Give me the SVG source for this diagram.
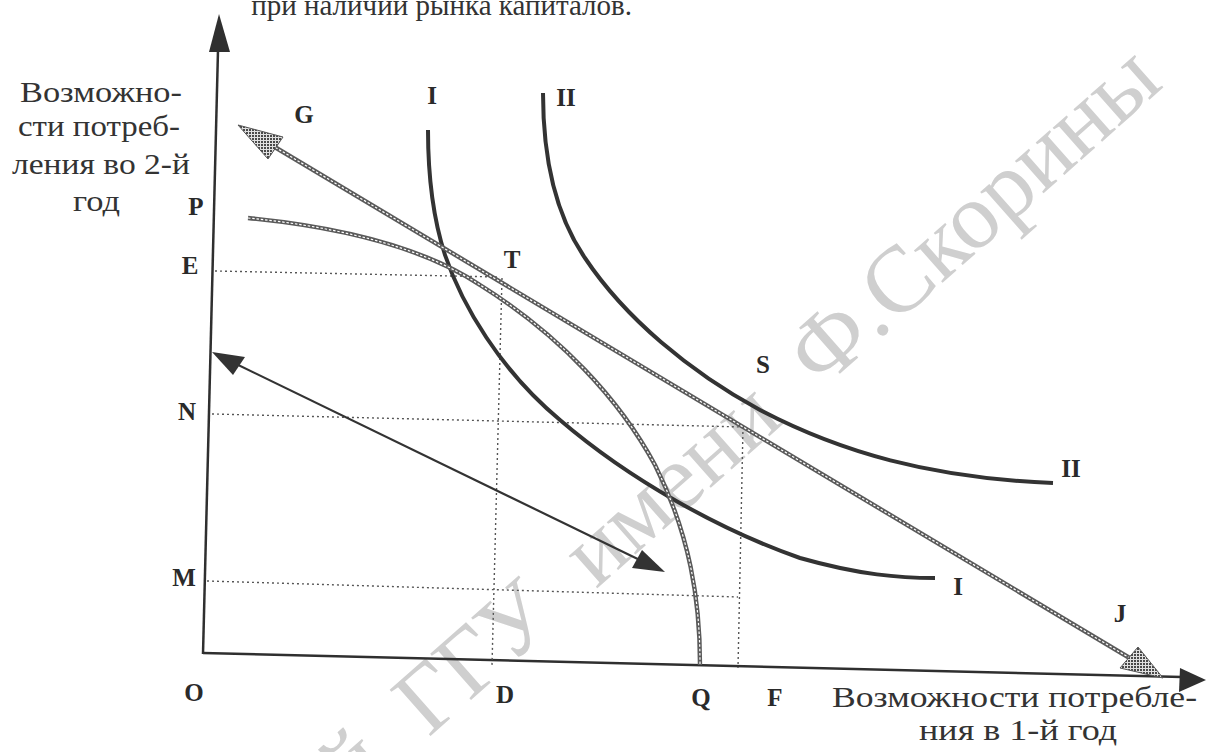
<svg xmlns="http://www.w3.org/2000/svg" width="1216" height="752" viewBox="0 0 1216 752">
<style>
.lbl{font-family:"Liberation Serif","Times New Roman",serif;font-weight:bold;font-size:25px;fill:#2a2a2a}
.cap{font-family:"Liberation Serif","Times New Roman",serif;font-size:29px;fill:#333}
.ax{stroke:#2f2f2f;stroke-width:2.5;fill:none}
.ic{stroke:#333;stroke-width:4;fill:none;stroke-linecap:butt}
.hb{stroke:#5a5a5a;stroke-width:4.4;fill:none}
.hw{stroke:#fff;stroke-width:1.2;fill:none;stroke-dasharray:2.5 1.8}
.dot{stroke:#555;stroke-width:1.4;fill:none;stroke-dasharray:2 3}
.sl{stroke:#333;stroke-width:2.2;fill:none}
.wm{font-family:"Liberation Serif","Times New Roman",serif;font-size:94px;word-spacing:25px;fill:#cfcfcf}
</style>
<defs>
<pattern id="dots" width="3" height="3" patternUnits="userSpaceOnUse">
<rect width="3" height="3" fill="#e0e0e0"/>
<rect width="2" height="2" fill="#4a4a4a"/>
</pattern>
</defs>
<rect width="1216" height="752" fill="#fff"/>
<text id="watermark" class="wm" text-anchor="end" transform="translate(1165,86) rotate(-41.5)">й ГГУ имени Ф.Скорины</text>
<text id="toptext" class="cap" x="632" y="15" text-anchor="end" fill="#444">при наличии рынка капиталов.</text>
<g id="axes">
<line class="ax" x1="218" y1="50" x2="203" y2="654"/>
<polygon points="219,14 209,52 230,52" fill="#2f2f2f"/>
<line class="ax" x1="203" y1="653" x2="1182" y2="677"/>
<polygon points="1206,680 1180,668 1179,692" fill="#2f2f2f"/>
</g>
<g id="guides">
<line class="dot" x1="215" y1="271" x2="500" y2="277"/>
<line class="dot" x1="502" y1="278" x2="492" y2="665"/>
<line class="dot" x1="212" y1="414" x2="743" y2="427"/>
<line class="dot" x1="743" y1="427" x2="738" y2="668"/>
<line class="dot" x1="207" y1="581" x2="738" y2="597"/>
</g>
<g id="curve-I">
<path class="ic" d="M428,130 C428,170 432,215 445,255 C462,305 500,370 560,420 C630,480 720,530 800,558 C860,575 900,578 935,578"/>
</g>
<g id="curve-II">
<path class="ic" d="M543,93 C543,150 552,210 585,258 C625,318 690,372 760,410 C840,452 930,478 1053,483"/>
</g>
<g id="ppf">
<path class="hb" d="M248,218 C330,226 420,245 480,285 C560,335 620,400 655,465 C690,535 700,600 700,665"/>
<path class="hw" d="M248,218 C330,226 420,245 480,285 C560,335 620,400 655,465 C690,535 700,600 700,665"/>
</g>
<g id="connectors">
<g id="budget-GJ">
<line class="hb" x1="268" y1="143" x2="1133" y2="660"/>
<line class="hw" x1="268" y1="143" x2="1133" y2="660"/>
<polygon points="238,125 283,137 268,159" fill="url(#dots)" stroke="#555" stroke-width="1"/>
<polygon points="1163,678 1138,647 1120,668" fill="url(#dots)" stroke="#555" stroke-width="1"/>
</g>
<g id="budget-low">
<line class="sl" x1="228" y1="360" x2="648" y2="564"/>
<polygon points="212,352 245,357 233,375" fill="#333"/>
<polygon points="665,572 642,550 632,568" fill="#333"/>
</g>
</g>
<g id="labels">
<text class="lbl" x="304" y="123" text-anchor="middle">G</text>
<text class="lbl" x="432" y="104" text-anchor="middle">I</text>
<text class="lbl" x="566" y="106" text-anchor="middle">II</text>
<text class="lbl" x="196" y="215" text-anchor="middle">P</text>
<text class="lbl" x="190" y="274" text-anchor="middle">E</text>
<text class="lbl" x="512" y="268" text-anchor="middle">T</text>
<text class="lbl" x="763" y="373" text-anchor="middle">S</text>
<text class="lbl" x="187" y="420" text-anchor="middle">N</text>
<text class="lbl" x="1071" y="477" text-anchor="middle">II</text>
<text class="lbl" x="184" y="586" text-anchor="middle">M</text>
<text class="lbl" x="958" y="595" text-anchor="middle">I</text>
<text class="lbl" x="1120" y="622" text-anchor="middle">J</text>
<text class="lbl" x="194" y="701" text-anchor="middle">O</text>
<text class="lbl" x="505" y="703" text-anchor="middle">D</text>
<text class="lbl" x="701" y="706" text-anchor="middle">Q</text>
<text class="lbl" x="775" y="706" text-anchor="middle">F</text>
</g>
<g id="y-title">
<text class="cap" x="20" y="102" textLength="162" lengthAdjust="spacingAndGlyphs">Возможно-</text>
<text class="cap" x="18" y="136" textLength="162" lengthAdjust="spacingAndGlyphs">сти потреб-</text>
<text class="cap" x="12" y="174" textLength="178" lengthAdjust="spacingAndGlyphs">ления во 2-й</text>
<text class="cap" x="73" y="211" textLength="47" lengthAdjust="spacingAndGlyphs">год</text>
</g>
<g id="x-title">
<text class="cap" x="832" y="707" textLength="365" lengthAdjust="spacingAndGlyphs">Возможности потребле-</text>
<text class="cap" x="919" y="740" textLength="198" lengthAdjust="spacingAndGlyphs">ния в 1-й год</text>
</g>
</svg>
